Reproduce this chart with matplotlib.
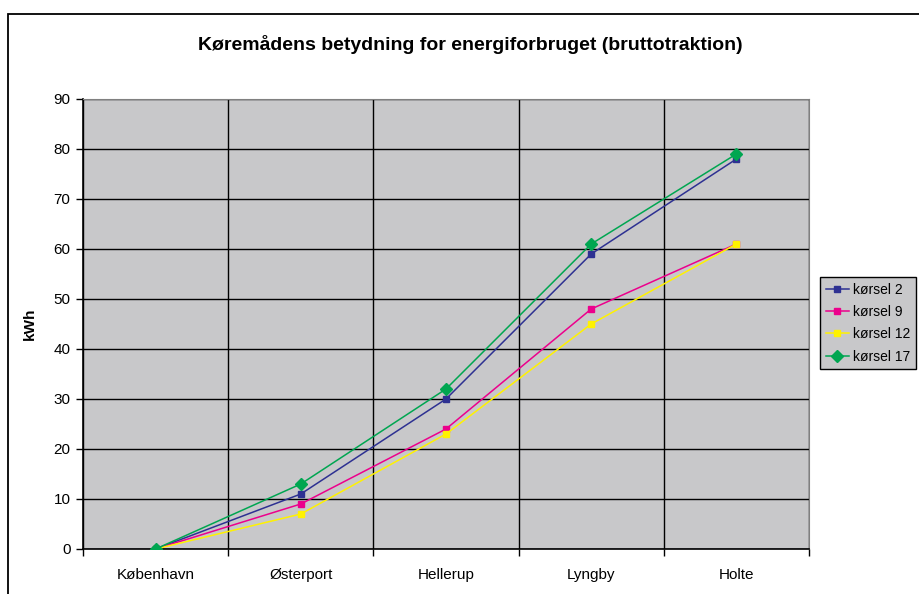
import matplotlib
matplotlib.use("Agg")
import matplotlib.pyplot as plt
from matplotlib.patches import Rectangle

plt.rcParams['font.family'] = ['Liberation Sans', 'DejaVu Sans']

categories = ["København", "Østerport", "Hellerup", "Lyngby", "Holte"]
korsel_2 = [0, 11, 30, 59, 78]
korsel_9 = [0, 9, 24, 48, 61]
korsel_12 = [0, 7, 23, 45, 61]
korsel_17 = [0, 13, 32, 61, 79]
series_names = ["kørsel 2", "kørsel 9", "kørsel 12", "kørsel 17"]
series_colors = ["#2E3192", "#EC008C", "#FFF200", "#00A651"]
series_markers = ["s", "s", "s", "D"]
yticks = list(range(0, 91, 10))

W, H = 919, 594
fig = plt.figure(figsize=(W / 100, H / 100), dpi=100)
fig.patch.set_facecolor("white")

# outer chart border
fig.add_artist(Rectangle((8 / W, -0.1), 1.2, 1 - 14 / H + 0.1, transform=fig.transFigure,
                         fill=False, edgecolor="black", linewidth=1.3, clip_on=False))

left, right, top, bottom = 83, 809, 99, 549
ax = fig.add_axes([left / W, 1 - bottom / H, (right - left) / W, (bottom - top) / H])
ax.set_facecolor("#C8C8CA")

x = list(range(len(categories)))
for vals, name, col, mk in zip([korsel_2, korsel_9, korsel_12, korsel_17],
                               series_names, series_colors, series_markers):
    ax.plot(x, vals, color=col, marker=mk, markersize=5 if mk == "s" else 6,
            linewidth=1.1, label=name, zorder=3)

ax.set_xlim(-0.5, len(categories) - 0.5)
ax.set_ylim(0, 90)
ax.set_yticks(yticks)
ax.set_xticks(x)
ax.set_xticklabels(categories)
ax.set_xticks([i + 0.5 for i in range(-1, len(categories))], minor=True)
ax.tick_params(axis="x", which="major", length=0, pad=14, labelsize=11)
ax.tick_params(axis="x", which="minor", length=5, width=1, direction="out")
ax.tick_params(axis="y", length=5, width=1, direction="out", labelsize=11, pad=4)

ax.grid(axis="y", color="black", linewidth=1)
ax.grid(axis="x", which="minor", color="black", linewidth=1)
ax.set_axisbelow(True)

for s in ["top", "right"]:
    ax.spines[s].set_color("#808080")
for s in ["left", "bottom"]:
    ax.spines[s].set_color("black")
    ax.spines[s].set_linewidth(1.2)

ax.set_ylabel("kWh", fontsize=11, fontweight="bold", labelpad=12)

fig.text(470 / W, 1 - 45 / H, "Køremådens betydning for energiforbruget (bruttotraktion)",
         ha="center", va="center", fontsize=14, fontweight="bold")

leg = fig.legend(loc="upper left", bbox_to_anchor=(820 / W, 1 - 277 / H),
                 frameon=True, fancybox=False, fontsize=10, handlelength=1.7,
                 borderaxespad=0, labelspacing=0.6, handletextpad=0.3, borderpad=0.4)
leg.get_frame().set_facecolor("#C8C8CA")
leg.get_frame().set_edgecolor("black")
leg.get_frame().set_linewidth(1)
leg.get_frame().set_alpha(1)

fig.savefig("out.png", dpi=100)
